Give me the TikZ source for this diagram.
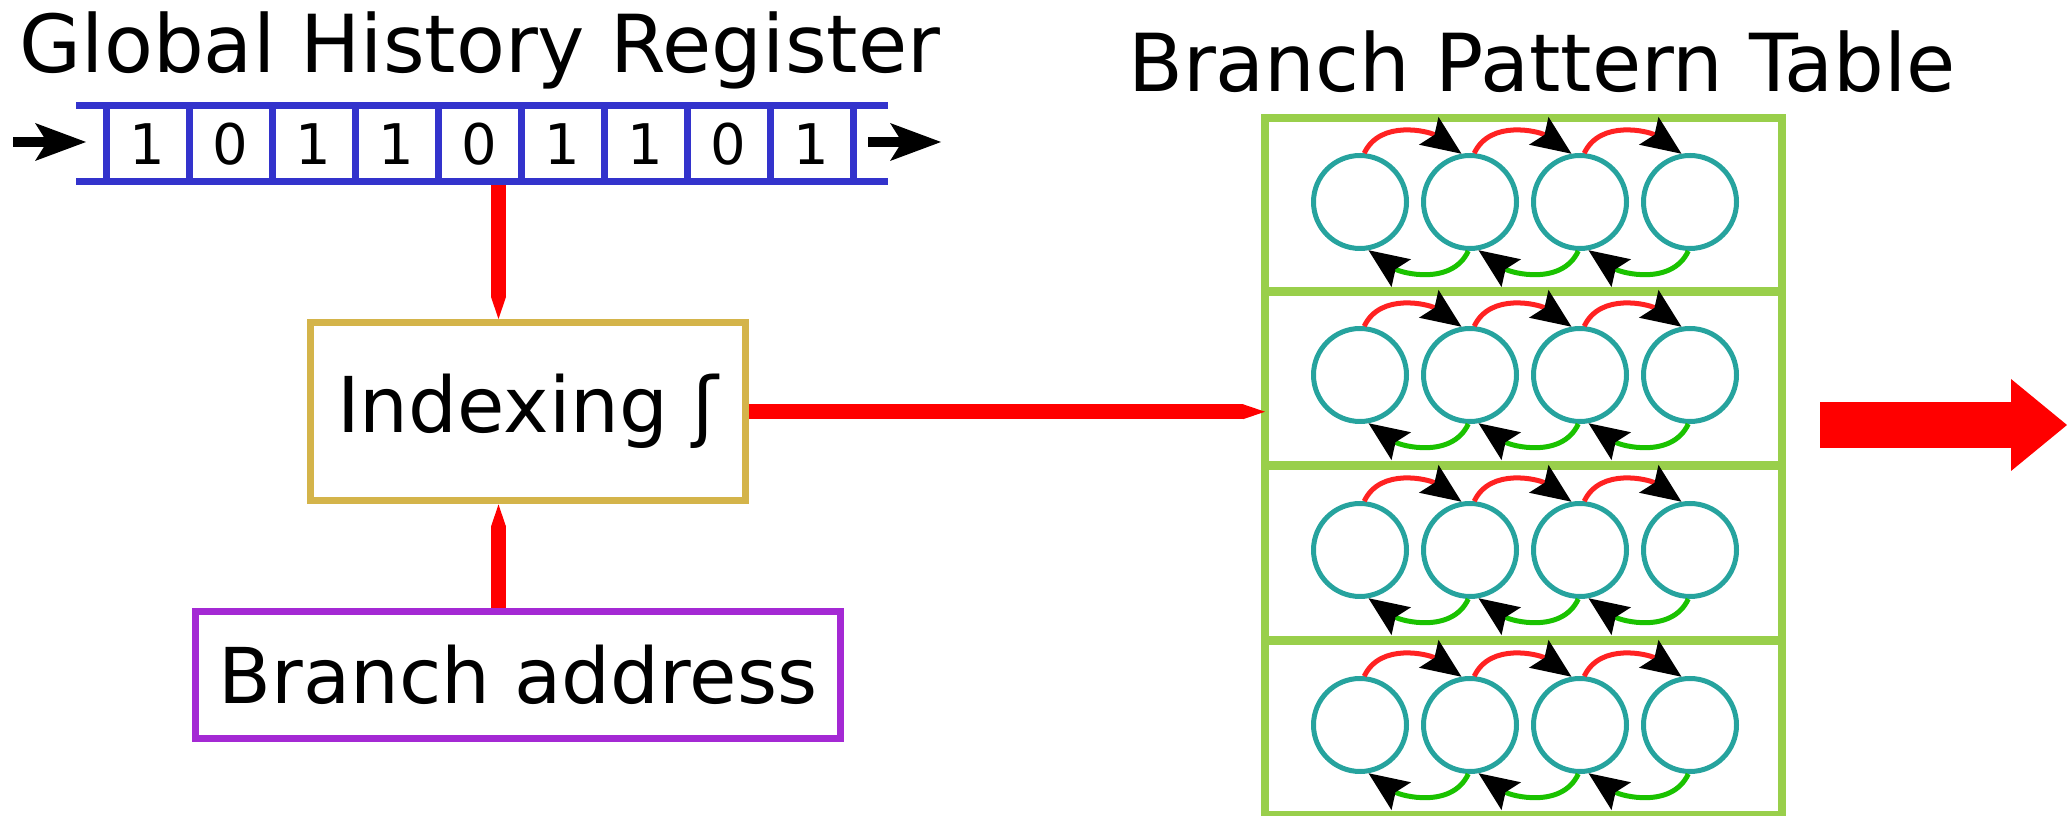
\documentclass[tikz,border=0pt]{standalone}
\usepackage{fontspec}
\setmainfont{DejaVu Sans}
\usetikzlibrary{arrows.meta,positioning}

\definecolor{regblue}{RGB}{51,51,204}
\definecolor{idxgold}{RGB}{212,180,74}
\definecolor{addrpurple}{RGB}{164,41,212}
\definecolor{bptgreen}{RGB}{153,207,75}
\definecolor{ctrteal}{RGB}{38,163,158}
\definecolor{tkred}{RGB}{255,34,34}
\definecolor{ntgreen}{RGB}{26,194,0}

\begin{document}
\begin{tikzpicture}[x=1pt,y=1pt,
  title/.style={inner sep=0pt,anchor=base,font=\fontsize{80}{90}\selectfont},
  bitcell/.style={draw=regblue,line width=7pt,minimum width=83pt,minimum height=76pt,
    inner sep=0pt,outer sep=0pt,font=\fontsize{56}{64}\selectfont},
  rail/.style={regblue,line width=7pt},
  shiftarrow/.style={line width=10pt,-{Stealth[length=51pt,width=38pt,inset=12pt,line width=0pt]}},
  logicbox/.style={draw,line width=7pt,inner sep=0pt,font=\fontsize{77}{86}\selectfont},
  feed/.style={red,line width=15pt,-{Triangle[length=22pt,width=15pt,line width=0pt]}},
  pattrow/.style={draw=bptgreen,line width=8pt,minimum width=517pt,minimum height=174pt,
    inner sep=0pt,outer sep=0pt},
  counter/.style={circle,draw=ctrteal,line width=5pt,minimum size=93pt,inner sep=0pt},
  taken/.style={tkred,line width=5pt,-{Stealth[black,length=40pt,width=34pt,inset=7pt,line width=0pt]}},
  nottaken/.style={taken,ntgreen}]
  \useasboundingbox (0,0) rectangle (2067,816);

  % titles
  \node[title] (ghrtitle) at (480,743) {Global History Register};
  \node[title] (bpttitle) at (1542,724) {Branch Pattern Table};

  % index function and address
  \node[logicbox,draw=idxgold,minimum width=434.5pt,minimum height=178.5pt] (idx) at (527.75,404.25) {Indexing ʃ};
  \node[logicbox,draw=addrpurple,minimum width=645.5pt,minimum height=127pt] (addr) at (518,141) {Branch address};

  % pattern table rows
  \foreach \r/\y in {1/611,2/438,3/263,4/88} {
    \node[pattrow] (row\r) at (1523.5,\y) {};
    \foreach \i/\x in {1/1360,2/1470,3/1580,4/1690}
      \node[counter] (st\r\i) at (\x,\y+3) {};
    \foreach \i/\j in {1/2,2/3,3/4} {
      \draw[taken] (st\r\i.85) to[out=65,in=145] (st\r\j.100);
      \draw[nottaken] (st\r\j.-92) to[out=-115,in=-35] (st\r\i.-80);
    }
  }

  % red feeds
  \coordinate (tap) at (498.5,631);
  \draw[feed] (tap) -- (tap |- idx.north);
  \draw[feed] (tap |- addr.north) -- (tap |- idx.south);
  \draw[feed] (idx.east) -- (idx.east -| row2.west);

  % history register
  \foreach \bit [count=\k] in {1,0,1,1,0,1,1,0,1}
    \node[bitcell] (b\k) at (64.5+83*\k,672) {\bit};
  \draw[rail] ([xshift=-30pt]b1.north west) -- ([xshift=35pt]b9.north east);
  \draw[rail] ([xshift=-30pt]b1.south west) -- ([xshift=35pt]b9.south east);
  \coordinate (shiftin) at (13,674);
  \coordinate (shiftout) at (941,674);
  \draw[shiftarrow] (shiftin) -- ([yshift=2pt]b1.west) [shorten >=20pt];
  \draw[shiftarrow,shorten <=15pt] ([yshift=2pt]b9.east) -- (shiftout);

  % prediction out
  \coordinate (predtail) at (1820,391);
  \coordinate (predhead) at (2067,391);
  \draw[red,line width=46pt,-{Triangle[length=56pt,width=92pt,line width=0pt]}] (predtail) -- (predhead);
\end{tikzpicture}
\end{document}
